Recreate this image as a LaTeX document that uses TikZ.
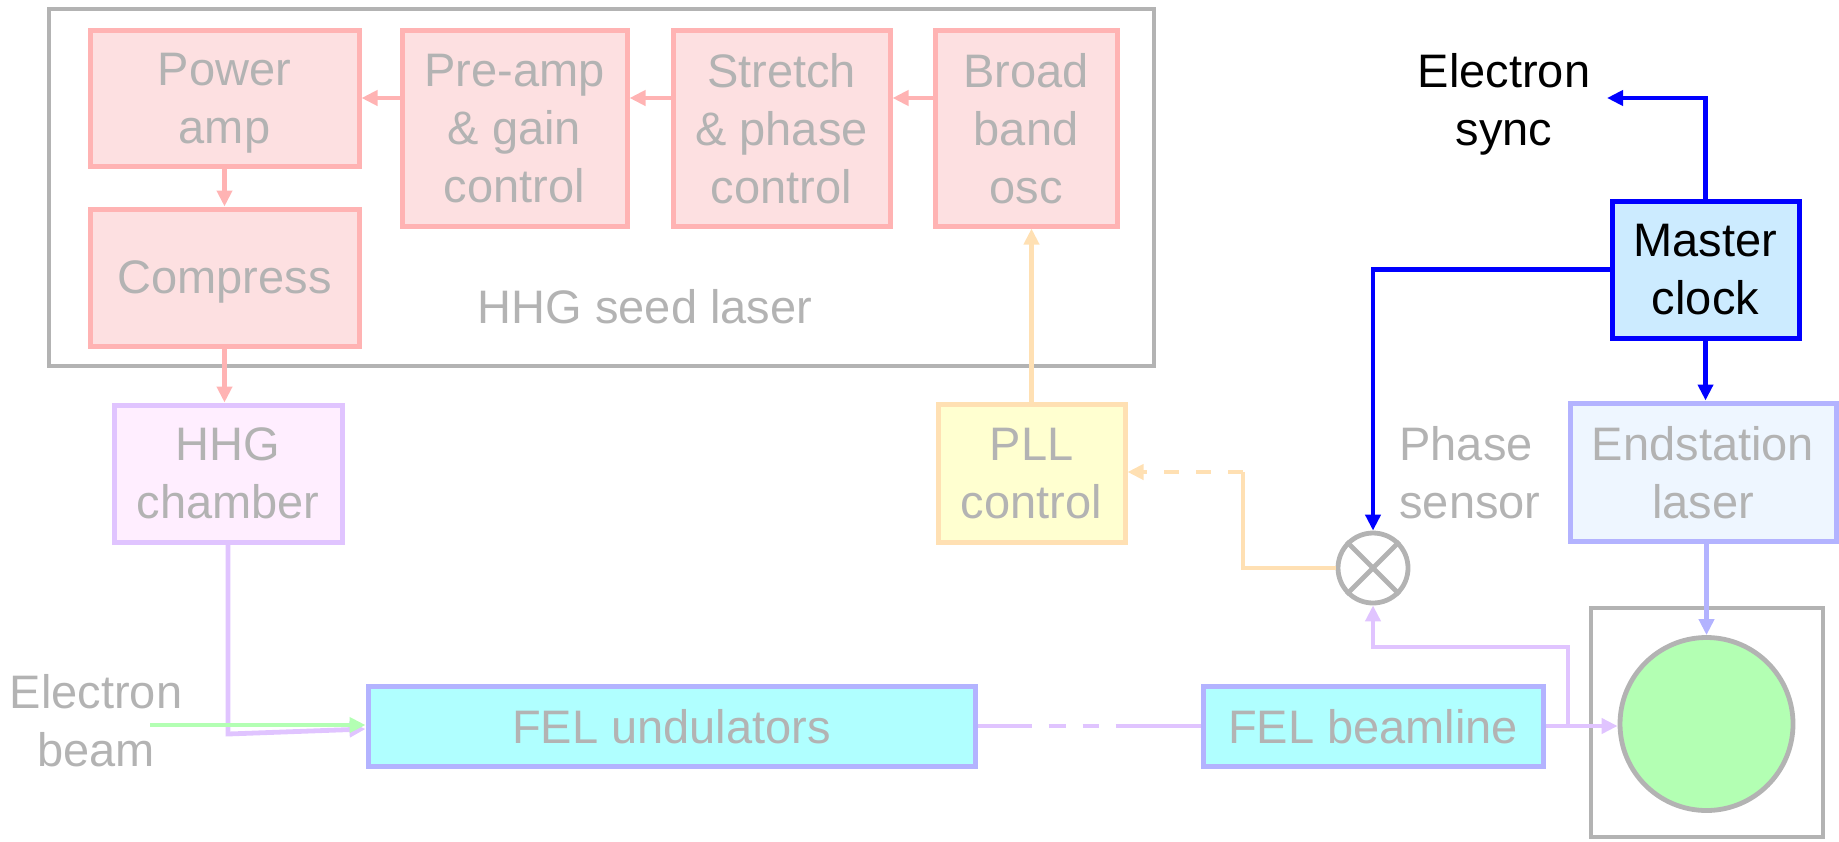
\documentclass[tikz,border=0pt]{standalone}
\usepackage{fontspec}
\setmainfont{Liberation Sans}
\usetikzlibrary{arrows.meta}

\definecolor{txtgray}{HTML}{B3B3B3}
\definecolor{pinkline}{HTML}{FFB3B3}
\definecolor{pinkfill}{HTML}{FDE0E1}
\definecolor{lilac}{HTML}{E0C4FF}
\definecolor{lilacfill}{HTML}{FFEEFF}
\definecolor{peach}{HTML}{FFE0B3}
\definecolor{cream}{HTML}{FFFFD0}
\definecolor{periw}{HTML}{B3B3FF}
\definecolor{ice}{HTML}{EEF6FF}
\definecolor{cyanfill}{HTML}{B0FFFF}
\definecolor{skyfill}{HTML}{CCEBFF}
\definecolor{mint}{HTML}{B3FFB3}
\definecolor{pureblue}{HTML}{0000FF}

\begin{document}
\begin{tikzpicture}[x=0.5pt, y=-0.5pt,
  lbl/.style={font=\fontsize{23.5}{29}\selectfont, text depth=0pt, align=center, inner sep=0pt},
  box/.style={lbl, draw, rectangle, line width=2.5pt, text=txtgray},
  pinkbox/.style={box, draw=pinkline, fill=pinkfill},
  lilacbox/.style={box, draw=lilac, fill=lilacfill},
  peachbox/.style={box, draw=peach, fill=cream},
  icebox/.style={box, draw=periw, fill=ice},
  felbox/.style={box, draw=periw, fill=cyanfill},
  clockbox/.style={box, draw=pureblue, fill=skyfill, text=black},
  framebox/.style={draw=txtgray, line width=2.2pt, rectangle, inner sep=0pt},
  tip/.style={-{Triangle[length=8pt,width=7.5pt]}},
  wire/.style={line width=2.4pt},
  pinkwire/.style={wire, draw=pinkline, tip},
  lilacwire/.style={wire, draw=lilac},
  peachwire/.style={wire, draw=peach},
  bluewire/.style={wire, draw=pureblue, tip},
  periwire/.style={wire, draw=periw, tip},
  greenwire/.style={wire, draw=mint, tip},
]
\useasboundingbox (0,0) rectangle (1839,841);

% seed laser enclosure and its label
\node[framebox, minimum width=552.5pt, minimum height=178.5pt] (seed) at (601.5,187.5) {};
\node[lbl, text=txtgray, anchor=base] (seedlbl) at (645,323) {HHG seed laser};

% seed laser chain
\node[pinkbox, minimum width=134.5pt, minimum height=68pt] (pa) at (224.5,98) {Power\\amp};
\node[pinkbox, minimum width=134.5pt, minimum height=68.5pt] (cmp) at (224.5,277.5) {Compress};
\node[pinkbox, minimum width=112.5pt, minimum height=98pt] (pre) at (514.5,128) {Pre-amp\\\& gain\\control};
\node[pinkbox, minimum width=108.5pt, minimum height=98pt] (str) at (781.5,128) {Stretch\\\& phase\\control};
\node[pinkbox, minimum width=91pt, minimum height=98pt] (brd) at (1026,128) {Broad\\band\\osc};

% remaining blocks
\node[lilacbox, minimum width=114pt, minimum height=68.5pt] (hhg) at (228,473.5) {HHG\\chamber};
\node[peachbox, minimum width=93.5pt, minimum height=69pt] (pll) at (1031.5,473) {PLL\\control};
\node[clockbox, minimum width=93.5pt, minimum height=68.5pt] (mc) at (1705.5,269.5) {Master\\clock};
\node[icebox, minimum width=133pt, minimum height=69pt] (endst) at (1703,472) {Endstation\\laser};
\node[felbox, minimum width=303.5pt, minimum height=40pt] (felu) at (671.5,726) {FEL undulators};
\node[felbox, minimum width=170pt, minimum height=40pt] (felb) at (1373,726) {FEL beamline};

% sample chamber
\node[framebox, minimum width=116pt, minimum height=114.5pt] (sample) at (1707,722.5) {};
\node[circle, draw=txtgray, fill=mint, line width=2.4pt, inner sep=0pt, minimum size=86.5pt] (green) at (1706.5,724) {};

% phase sensor (mixer)
\node[circle, draw=txtgray, line width=2.4pt, inner sep=0pt, minimum size=35pt] (phase) at (1373,568) {};
\draw[txtgray, line width=2.4pt] (phase.north east) -- (phase.south west);
\draw[txtgray, line width=2.4pt] (phase.north west) -- (phase.south east);

% free labels
\node[lbl, text=black] (esynclbl) at (1504,99) {Electron\\sync};
\node[lbl, text=txtgray] (eblbl) at (96,720) {Electron\\beam};
\node[lbl, text=txtgray, align=left] (phlbl) at (1470,472) {Phase\\sensor};

% seed laser signal flow
\draw[pinkwire] (pre.west |- pa.east) -- (pa.east);
\draw[pinkwire] (str.west |- pa.east) -- (pre.east |- pa.east);
\draw[pinkwire] (brd.west |- pa.east) -- (str.east |- pa.east);
\draw[pinkwire] (pa.south) -- (cmp.north);
\draw[pinkwire] (cmp.south) -- (cmp.south |- hhg.north);

% PLL feedback to the oscillator
\draw[peachwire, tip] (pll.north) -- (pll.north |- brd.south);

% HHG output into the undulators
\coordinate (hbend) at (228,734);
\draw[lilacwire, tip] (hhg.south) -- (hbend) -- ([yshift=-1.5pt]felu.west);

% electron beam
\coordinate (ebeam) at (150,725);
\draw[greenwire] (ebeam) -- (ebeam -| felu.west);

% FEL transport
\draw[lilacwire, dash pattern=on 27pt off 8.5pt on 8.5pt off 8.5pt on 8pt off 8.5pt on 100pt] (felu.east) -- (felb.west);
\draw[lilacwire, tip] (felb.east) -- (felb.east -| green.west);
\coordinate (split) at (1568,726);
\coordinate (splitup) at (1568,647);
\draw[lilacwire, tip] (split) -- (splitup) -| (phase.south);

% phase sensor output to PLL
\coordinate (pbend) at (1243,472);
\draw[peachwire] (phase.west) -| (pbend);
\draw[peachwire, tip, dash pattern=on 7.5pt off 8.5pt] (pbend) -- (pbend -| pll.east);

% master clock distribution
\draw[bluewire] (mc.west) -| (phase.north);
\coordinate (esync) at (1607,98);
\draw[bluewire] (mc.north) |- (esync);
\draw[bluewire] (mc.south) -- (mc.south |- endst.north);

% endstation laser onto the sample
\draw[periwire] (green.north |- endst.south) -- (green.north);
\end{tikzpicture}
\end{document}
